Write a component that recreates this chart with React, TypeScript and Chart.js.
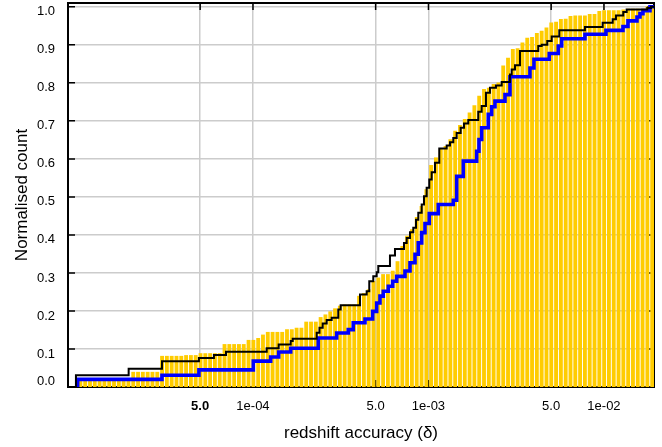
import { useEffect, useRef } from "react";
import { Chart, registerables } from "chart.js";

Chart.register(...registerables);

const FONT = "'Liberation Sans', Arial, Helvetica, sans-serif";

// x axis (redshift accuracy, log scale)
const X_MIN = 8.83e-6;
const X_MAX = 1.928e-2;
const xTickValues = [5e-5, 1e-4, 5e-4, 1e-3, 5e-3, 1e-2];
const xTickLabels = ["5.0", "1e-04", "5.0", "1e-03", "5.0", "1e-02"];

// y axis
const Y_MIN = 0;
const Y_MAX = 1.01;
const yTickValues = [0, 0.1, 0.2, 0.3, 0.4, 0.5, 0.6, 0.7, 0.8, 0.9, 1.0];
const yTickLabels = ["0.0", "0.1", "0.2", "0.3", "0.4", "0.5", "0.6", "0.7", "0.8", "0.9", "1.0"];
const Y_ZERO_LABEL_LIFT = 0.027; // the "0.0" label sits above the bottom edge

// yellow cumulative histogram: log-spaced bins
const binLogStart = -4.9835;
const binLogStep = 0.02738;
const barHeights = [
  0.02, 0.02, 0.02, 0.02, 0.02, 0.02, 0.02, 0.02, 0.02, 0.02, 0.02,
  0.039, 0.039, 0.039, 0.039, 0.039, 0.039,
  0.081, 0.081, 0.081, 0.081, 0.081, 0.083, 0.083, 0.083,
  0.088, 0.088, 0.088, 0.088, 0.088,
  0.112, 0.112, 0.112, 0.112, 0.112,
  0.123, 0.123, 0.128, 0.137, 0.144, 0.144, 0.144, 0.144,
  0.151, 0.151, 0.155, 0.155, 0.171, 0.171, 0.171,
  0.183, 0.19, 0.198, 0.206, 0.213, 0.216, 0.216, 0.216,
  0.239, 0.246, 0.256, 0.278, 0.287, 0.296, 0.296, 0.305,
  0.33, 0.37, 0.397, 0.414, 0.446, 0.475, 0.519, 0.583,
  0.603, 0.625, 0.633, 0.651, 0.673, 0.688, 0.704, 0.721,
  0.74, 0.765, 0.783, 0.786, 0.796, 0.8, 0.845, 0.865,
  0.888, 0.89, 0.905, 0.918, 0.92, 0.93, 0.936, 0.945,
  0.958, 0.96, 0.967, 0.968, 0.975, 0.976, 0.976, 0.976,
  0.98, 0.98, 0.988, 0.99, 0.99, 0.99, 0.99, 0.992,
  0.994, 0.994, 0.994, 0.994, 1.0, 1.0,
];

// black step line
const blackX = [
  9.8e-6, 9.8e-6, 1.957e-5, 3.03e-5, 4.92e-5, 5.99e-5, 7.02e-5, 1.197e-4, 1.401e-4, 1.64e-4,
  1.684e-4, 2.307e-4, 2.393e-4, 2.496e-4, 2.63e-4, 2.808e-4, 3.062e-4, 3.16e-4, 4.072e-4, 4.445e-4,
  4.599e-4, 4.847e-4, 5.068e-4, 5.176e-4, 6.034e-4, 6.444e-4, 7.252e-4, 7.514e-4, 7.847e-4, 8.194e-4,
  8.489e-4, 8.749e-4, 9.148e-4, 9.428e-4, 9.765e-4, 1.0106e-3, 1.0428e-3, 1.089e-3, 1.1523e-3, 1.2699e-3,
  1.3262e-3, 1.3846e-3, 1.4477e-3, 1.5258e-3, 1.5933e-3, 1.6859e-3, 1.9222e-3, 2.0097e-3, 2.1263e-3, 2.2409e-3,
  2.424e-3, 2.6135e-3, 2.9137e-3, 2.9795e-3, 3.1114e-3, 3.3221e-3, 4.2232e-3, 4.4157e-3, 4.7534e-3, 5.035e-3,
  5.5643e-3, 7.793e-3, 9.831e-3, 1.1209e-2, 1.1705e-2, 1.2882e-2, 1.3468e-2, 1.765e-2, 1.853e-2, 1.928e-2,
];
const blackY = [
  0, 0.031, 0.048, 0.068, 0.076, 0.084, 0.093, 0.102, 0.112, 0.121,
  0.127, 0.143, 0.156, 0.167, 0.176, 0.182, 0.204, 0.215, 0.243, 0.252,
  0.278, 0.291, 0.302, 0.318, 0.346, 0.363, 0.379, 0.392, 0.407, 0.419,
  0.44, 0.458, 0.48, 0.502, 0.524, 0.546, 0.565, 0.59, 0.627, 0.635,
  0.644, 0.655, 0.668, 0.682, 0.693, 0.702, 0.724, 0.739, 0.774, 0.787,
  0.793, 0.802, 0.822, 0.835, 0.846, 0.884, 0.897, 0.9, 0.91, 0.922,
  0.938, 0.947, 0.958, 0.967, 0.977, 0.986, 0.993, 0.997, 1.0, 1.0,
];

// blue step line
const blueX = [
  1.0025e-5, 1.0025e-5, 3.03e-5, 4.92e-5, 1.004e-4, 1.261e-4, 1.401e-4, 1.64e-4, 2.355e-4, 2.999e-4,
  3.491e-4, 3.728e-4, 4.347e-4, 4.809e-4, 5.068e-4, 5.292e-4, 5.527e-4, 5.903e-4, 6.252e-4, 6.589e-4,
  7.347e-4, 7.847e-4, 8.379e-4, 8.749e-4, 9.148e-4, 9.552e-4, 1.0106e-3, 1.1373e-3, 1.3846e-3, 1.4477e-3,
  1.5787e-3, 1.882e-3, 1.9397e-3, 2.0097e-3, 2.1914e-3, 2.2914e-3, 2.3928e-3, 2.729e-3, 2.9137e-3, 3.7866e-3,
  3.9912e-3, 4.8777e-3, 5.4917e-3, 5.7412e-3, 7.793e-3, 1.0266e-2, 1.2832e-2, 1.3702e-2, 1.5417e-2, 1.6036e-2,
  1.6682e-2, 1.8289e-2, 1.928e-2,
];
const blueY = [
  0, 0.02, 0.031, 0.045, 0.068, 0.079, 0.092, 0.102, 0.129, 0.142,
  0.151, 0.169, 0.179, 0.199, 0.221, 0.239, 0.252, 0.265, 0.278, 0.291,
  0.305, 0.327, 0.349, 0.379, 0.406, 0.43, 0.456, 0.48, 0.491, 0.554,
  0.594, 0.62, 0.651, 0.682, 0.717, 0.737, 0.752, 0.769, 0.816, 0.839,
  0.862, 0.877, 0.897, 0.916, 0.928, 0.938, 0.948, 0.963, 0.973, 0.982,
  0.99, 1.0, 1.0,
];

const zip = (xs: number[], ys: number[]) =>
  xs.slice(0, Math.min(xs.length, ys.length)).map((x, i) => ({ x, y: ys[i] }));

const framePlugin = {
  id: "frame",
  beforeDatasetsDraw(chart: any) {
    const { ctx, chartArea, scales } = chart;
    const { left, right, top, bottom } = chartArea;
    ctx.save();
    ctx.strokeStyle = "#000";
    ctx.lineWidth = 2;
    ctx.strokeRect(left, top, right - left, bottom - top);
    ctx.lineWidth = 1.5;
    ctx.beginPath();
    for (const v of yTickValues) {
      const y = scales.y.getPixelForValue(v);
      ctx.moveTo(left, y);
      ctx.lineTo(left + 7, y);
      ctx.moveTo(right - 7, y);
      ctx.lineTo(right, y);
    }
    for (const v of xTickValues) {
      const x = scales.x.getPixelForValue(v);
      ctx.moveTo(x, top);
      ctx.lineTo(x, top + 7);
      ctx.moveTo(x, bottom - 7);
      ctx.lineTo(x, bottom);
    }
    ctx.stroke();
    ctx.restore();
  },
};

export default function App() {
  const ref = useRef<HTMLCanvasElement>(null);

  useEffect(() => {
    if (!ref.current) return;
    const barData = barHeights.map((h, i) => ({
      x: Math.pow(10, binLogStart + i * binLogStep),
      y: h,
    }));
    const chart = new Chart(ref.current, {
      type: "line",
      data: {
        datasets: [
          {
            type: "line",
            label: "black",
            data: zip(blackX, blackY),
            borderColor: "#000000",
            borderWidth: 2,
            pointRadius: 0,
            stepped: "before",
            fill: false,
            order: 1,
            borderJoinStyle: "miter",
          } as any,
          {
            type: "line",
            label: "blue",
            data: zip(blueX, blueY),
            borderColor: "#0000ff",
            borderWidth: 3.6,
            pointRadius: 0,
            stepped: "before",
            fill: false,
            order: 2,
            borderJoinStyle: "miter",
          } as any,
          {
            type: "bar",
            label: "histogram",
            data: barData,
            backgroundColor: "#ffcc00",
            borderWidth: 0,
            barThickness: 3.2,
            order: 3,
          } as any,
        ],
      },
      options: {
        responsive: false,
        animation: false,
        devicePixelRatio: 1,
        layout: { padding: { top: 3, right: 8, left: 0, bottom: 0 } },
        plugins: {
          legend: { display: false },
          tooltip: { enabled: false },
        },
        scales: {
          x: {
            type: "logarithmic",
            min: X_MIN,
            max: X_MAX,
            offset: false,
            afterBuildTicks: (s: any) => {
              s.ticks = xTickValues.map((v) => ({ value: v }));
            },
            afterFit: (s: any) => {
              s.height = 60;
              s.paddingLeft = 0;
              s.paddingRight = 0;
            },
            grid: { color: "#cccccc", lineWidth: 1.5, drawTicks: false, offset: false },
            border: { display: false },
            ticks: {
              autoSkip: false,
              maxRotation: 0,
              padding: 12,
              color: "#000",
              font: (c: any) => ({ family: FONT, size: 13, weight: c.index === 0 ? "bold" : "normal" }),
              callback: (_v: any, i: number) => xTickLabels[i],
            },
            title: {
              display: true,
              text: "redshift accuracy (δ)",
              color: "#000",
              font: { family: FONT, size: 17 },
              padding: { top: 0, bottom: 3 },
            },
          },
          y: {
            type: "linear",
            min: Y_MIN,
            max: Y_MAX,
            afterBuildTicks: (s: any) => {
              s.ticks = yTickValues.map((v) => ({ value: v === 0 ? Y_ZERO_LABEL_LIFT : v }));
            },
            afterFit: (s: any) => {
              s.width = 68;
              s.paddingTop = 0;
              s.paddingBottom = 0;
            },
            grid: {
              color: (c: any) => (c.tick && c.tick.value < 0.05 ? "rgba(0,0,0,0)" : "#cccccc"),
              lineWidth: 1.5,
              drawTicks: false,
            },
            border: { display: false },
            ticks: {
              autoSkip: false,
              padding: 13,
              labelOffset: 5,
              color: "#000",
              font: { family: FONT, size: 13 },
              callback: (_v: any, i: number) => yTickLabels[i],
            },
            title: {
              display: true,
              text: "Normalised count",
              color: "#000",
              font: { family: FONT, size: 17 },
              padding: { top: 12, bottom: 0 },
            },
          },
        },
      } as any,
      plugins: [framePlugin],
    });
    return () => chart.destroy();
  }, []);

  return (
    <div style={{ position: "fixed", left: 0, top: 0, width: 662, height: 447, background: "#fff" }}>
      <canvas ref={ref} width={662} height={447} style={{ display: "block", width: 662, height: 447 }} />
    </div>
  );
}
